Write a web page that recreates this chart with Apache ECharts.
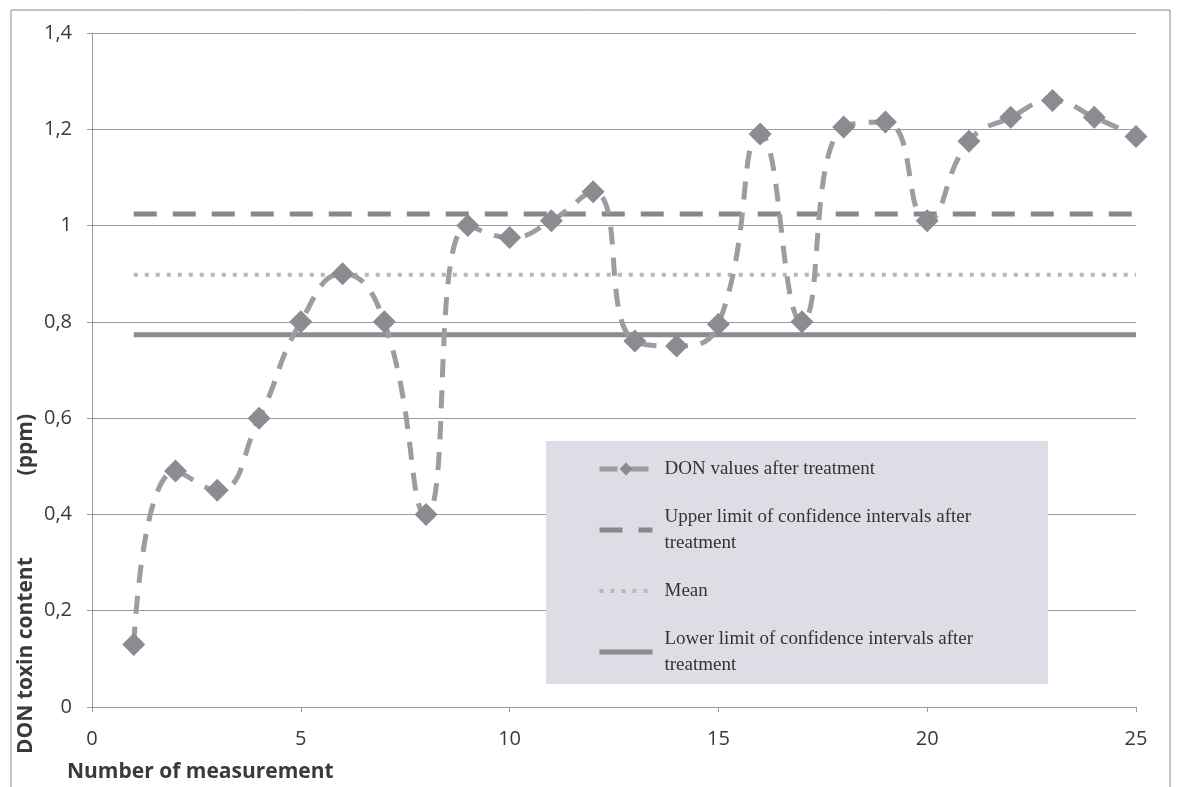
<!DOCTYPE html>
<html>
<head>
<meta charset="utf-8">
<script src="https://cdn.jsdelivr.net/npm/echarts@6/dist/echarts.min.js"></script>
<style>html,body{margin:0;padding:0;background:#fff;}#c{width:1180px;height:787px;}</style>
</head>
<body>
<div id="c"></div>
<script>
var measurements = [1,2,3,4,5,6,7,8,9,10,11,12,13,14,15,16,17,18,19,20,21,22,23,24,25];
var donValues = [0.13,0.49,0.45,0.60,0.80,0.90,0.80,0.40,1.00,0.975,1.01,1.07,0.76,0.75,0.795,1.19,0.80,1.205,1.215,1.01,1.175,1.225,1.26,1.225,1.185];
var upperLimit = 1.024;
var meanValue = 0.898;
var lowerLimit = 0.773;
var seriesNames = ['DON values after treatment','Upper limit of confidence intervals after\ntreatment','Mean','Lower limit of confidence intervals after\ntreatment'];
var yAxisTitle = 'DON toxin content               (ppm)';
var xAxisTitle = 'Number of measurement';

function pairs(vals){ return measurements.map(function(x,i){ return [x, vals[i]]; }); }
function constant(v){ return measurements.map(function(x){ return [x, v]; }); }

var chart = echarts.init(document.getElementById('c'));
chart.setOption({
  animation: false,
  backgroundColor: '#fff',
  grid: {left: 92, right: 44, top: 33, bottom: 80, containLabel: false},
  xAxis: {
    type: 'value', min: 0, max: 25, interval: 5,
    axisLine: {show: true, lineStyle: {color: '#999', width: 1}},
    axisTick: {show: true, length: 5, lineStyle: {color: '#999'}},
    axisLabel: {color: '#3a3a3a', fontSize: 20, fontFamily: 'Open Sans', margin: 22},
    splitLine: {show: false}
  },
  yAxis: {
    type: 'value', min: 0, max: 1.4, interval: 0.2,
    axisLine: {show: true, lineStyle: {color: '#999', width: 1}},
    axisTick: {show: true, length: 5, lineStyle: {color: '#999'}},
    axisLabel: {color: '#3a3a3a', fontSize: 20, fontFamily: 'Open Sans', margin: 20,
      formatter: function(v){ return String(Math.round(v*10)/10).replace('.', ','); }},
    splitLine: {show: true, lineStyle: {color: '#9a9a9a', width: 1}}
  },
  legend: {
    orient: 'vertical', left: 546, top: 441,
    backgroundColor: '#dddde5',
    padding: [15, 75, 6, 51],
    itemGap: 22,
    itemWidth: 53, itemHeight: 16,
    lineStyle: {width: 5},
    textStyle: {fontFamily: 'Liberation Serif', fontSize: 19, color: '#333', lineHeight: 26, padding: [0, 0, 0, 7]},
    data: [
      {name: seriesNames[0]},
      {name: seriesNames[1], itemStyle: {opacity: 0}},
      {name: seriesNames[2], itemStyle: {opacity: 0}, lineStyle: {width: 4}},
      {name: seriesNames[3], itemStyle: {opacity: 0}}
    ]
  },
  graphic: [
    {type: 'rect', shape: {x: 11, y: 10, width: 1159, height: 800}, style: {fill: 'none', stroke: '#888', lineWidth: 1}, z: 100},
    {type: 'text', x: 16, y: 754, rotation: Math.PI/2, style: {text: yAxisTitle, font: 'bold 21px "Open Sans"', fill: '#3a3a3a', textVerticalAlign: 'top'}},
    {type: 'text', x: 67, y: 762, style: {text: xAxisTitle, font: 'bold 21px "Open Sans"', fill: '#3a3a3a'}}
  ],
  series: [
    {name: seriesNames[0], type: 'line', data: pairs(donValues), smooth: 0.5,
      symbol: 'diamond', symbolSize: 23, showSymbol: true,
      itemStyle: {color: '#8b8b91'},
      lineStyle: {color: '#9c9ca2', width: 5, type: [18, 13]}, z: 5},
    {name: seriesNames[1], type: 'line', data: constant(upperLimit), symbol: 'none',
      lineStyle: {color: '#86868c', width: 5, type: [23, 16]}, itemStyle: {color: '#86868c'}, z: 3},
    {name: seriesNames[2], type: 'line', data: constant(meanValue), symbol: 'none',
      lineStyle: {color: '#b6b6bc', width: 4, type: [4, 7]}, itemStyle: {color: '#b6b6bc'}, z: 3},
    {name: seriesNames[3], type: 'line', data: constant(lowerLimit), symbol: 'none',
      lineStyle: {color: '#8c8c92', width: 5, type: 'solid'}, itemStyle: {color: '#8c8c92'}, z: 3}
  ]
});
</script>
</body>
</html>
